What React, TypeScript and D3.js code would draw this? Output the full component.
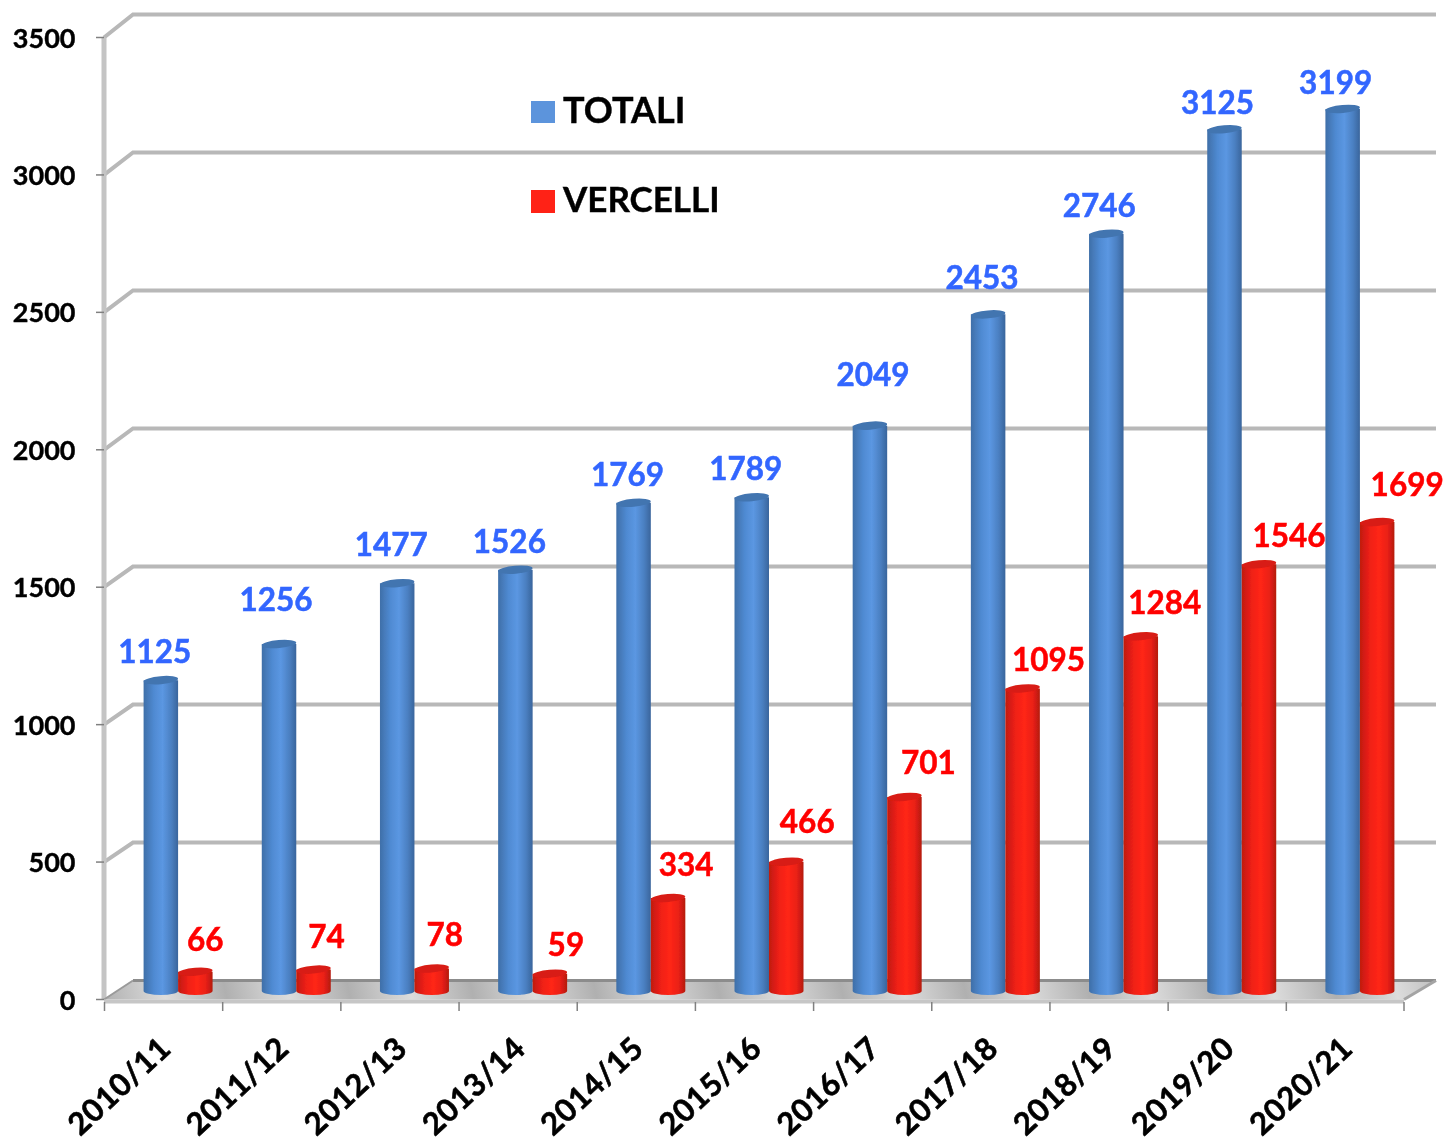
import React from "react";
import * as d3 from "d3";

const seasons = ["2010/11","2011/12","2012/13","2013/14","2014/15","2015/16","2016/17","2017/18","2018/19","2019/20","2020/21"];
const totali = [1125,1256,1477,1526,1769,1789,2049,2453,2746,3125,3199];
const vercelli = [66,74,78,59,334,466,701,1095,1284,1546,1699];
const yTicks = [0,500,1000,1500,2000,2500,3000,3500];

// hand-placed label offsets of the original
const totaliLabelDx = [-6,-3,-6,-6,-6,-6,3,-6,-7,-7,-7];
const totaliLabelDy = [29,45,39,29,29,29,52,37,29,27,27];
const vercelliLabelDx = [10,13,13,16,18,21,24,26,24,30,30];
const vercelliLabelDy = [33,34,35,30,34,41,35,29,34,29,38];

const FONT = "Lato, Carlito, 'Open Sans', sans-serif";
const W = 1447, H = 1138;
const x = d3.scaleBand<string>().domain(seasons).range([104.5, 1404.5]);
const yFront = d3.scaleLinear().domain([0, 3500]).range([999.5, 37.5]);
const yBack = d3.scaleLinear().domain([0, 3500]).range([980.5, 14.5]);
const yBar = d3.scaleLinear().domain([0, 3500]).range([990, 26]);
const DX = 29;
const BAR = 34.5;

function Cyl({ cx, v, side, top }: { cx: number; v: number; side: string; top: string }) {
  const yt = yBar(v), yb = yBar(0) + 1;
  const l = cx - BAR / 2, r = cx + BAR / 2;
  const ry = 4;
  return (
    <g>
      <path d={`M${l},${yt} L${l},${yb} A${BAR / 2},${ry} 0 0 0 ${r},${yb} L${r},${yt} Z`} fill={`url(#${side})`} />
      <ellipse cx={cx} cy={yt} rx={BAR / 2} ry={ry} fill={top} transform={`rotate(-5 ${cx} ${yt})`} />
    </g>
  );
}

export default function App() {
  return (
    <svg width={W} height={H} style={{ position: "absolute", left: 0, top: 0, background: "#fff" }} fontFamily={FONT} fontWeight={700}>
      <defs>
        <linearGradient id="blueSide" x1="0" x2="1" y1="0" y2="0">
          <stop offset="0" stopColor="#3f6fa8" />
          <stop offset="0.3" stopColor="#4f8ad2" />
          <stop offset="0.55" stopColor="#5b97e2" />
          <stop offset="0.8" stopColor="#4b80c2" />
          <stop offset="1" stopColor="#39659c" />
        </linearGradient>
        <linearGradient id="redSide" x1="0" x2="1" y1="0" y2="0">
          <stop offset="0" stopColor="#c01c10" />
          <stop offset="0.3" stopColor="#f02016" />
          <stop offset="0.55" stopColor="#ff2618" />
          <stop offset="0.8" stopColor="#ea2014" />
          <stop offset="1" stopColor="#b41a10" />
        </linearGradient>
        <linearGradient id="floorG" gradientUnits="userSpaceOnUse" x1="104" y1="1000" x2="222" y2="975" spreadMethod="repeat">
          <stop offset="0" stopColor="#b0b0b0" />
          <stop offset="0.5" stopColor="#dcdcdc" />
          <stop offset="1" stopColor="#b0b0b0" />
        </linearGradient>
        <filter id="soft" x="-2%" y="-2%" width="104%" height="104%">
          <feGaussianBlur stdDeviation="0.7" />
        </filter>
      </defs>
      <g filter="url(#soft)">
        {/* back wall gridlines */}
        {yTicks.slice(1).map((t) => (
          <path key={t} d={`M${104},${yFront(t)} L${104 + DX},${yBack(t)} L${1436},${yBack(t)}`} fill="none" stroke="#b8b8b8" strokeWidth={4} />
        ))}
        {/* left wall */}
        <line x1={104} x2={104} y1={yFront(3500)} y2={yFront(0)} stroke="#c4c4c4" strokeWidth={5} />
        {/* floor */}
        <polygon points={`104,${yFront(0)} ${104 + DX},${yBack(0)} 1436,${yBack(0)} 1404,${yFront(0)}`} fill="url(#floorG)" />
        <path d={`M${104 + DX},${yBack(0)} L1436,${yBack(0)}`} stroke="#8c8c8c" strokeWidth={3} />
        <path d={`M104,${yFront(0)} L${104 + DX},${yBack(0)}`} stroke="#9a9a9a" strokeWidth={2} />
        <path d={`M1404,${yFront(0)} L1436,${yBack(0)}`} stroke="#a4a4a4" strokeWidth={3} />
        <rect x={104} y={yFront(0)} width={1300} height={4} fill="#c6c6c6" />
        {/* ticks */}
        {yTicks.map((t) => (
          <line key={t} x1={96} x2={104} y1={yFront(t)} y2={yFront(t)} stroke="#808080" strokeWidth={1.5} />
        ))}
        {seasons.map((s) => (
          <line key={s} x1={x(s)!} x2={x(s)!} y1={1002} y2={1011} stroke="#808080" strokeWidth={1.5} />
        ))}
        <line x1={1404} x2={1404} y1={1002} y2={1011} stroke="#808080" strokeWidth={1.5} />
        {/* bars */}
        {seasons.map((s, i) => {
          const c = x(s)! + x.bandwidth() / 2 + 14.5;
          return (
            <g key={s}>
              <Cyl cx={c - BAR / 2} v={totali[i]} side="blueSide" top="#4274b0" />
              <Cyl cx={c + BAR / 2} v={vercelli[i]} side="redSide" top="#d81e12" />
            </g>
          );
        })}
        {/* value labels */}
        {seasons.map((s, i) => {
          const c = x(s)! + x.bandwidth() / 2 + 14.5;
          return (
            <g key={s} fontSize={31.5} textAnchor="middle" dominantBaseline="central" strokeWidth={0.5}>
              <text x={c - BAR / 2 + totaliLabelDx[i]} y={yBar(totali[i]) - totaliLabelDy[i]} fill="#3366ff" stroke="#3366ff">{totali[i]}</text>
              <text x={c + BAR / 2 + vercelliLabelDx[i]} y={yBar(vercelli[i]) - vercelliLabelDy[i]} fill="#ff0000" stroke="#ff0000">{vercelli[i]}</text>
            </g>
          );
        })}
        {/* y labels */}
        {yTicks.map((t) => (
          <text key={t} x={75.5} y={yFront(t) - 0.5} fontSize={27} textAnchor="end" dominantBaseline="central" fill="#000" stroke="#000" strokeWidth={0.4}>{t}</text>
        ))}
        {/* x labels */}
        {seasons.map((s) => {
          const ex = x(s)! + x.bandwidth() / 2 + 1;
          return (
            <text key={s} transform={`translate(${ex},1042) rotate(-43)`} fontSize={31} letterSpacing={0.6} textAnchor="end" dominantBaseline="central" fill="#000" stroke="#000" strokeWidth={0.6}>{s}</text>
          );
        })}
        {/* legend */}
        <rect x={531} y={101} width={24} height={22} fill="#5b94dc" />
        <text x={563} y={109} fontSize={36} dominantBaseline="central" fill="#000" stroke="#000" strokeWidth={0.4}>TOTALI</text>
        <rect x={531} y={190} width={24} height={23} fill="#ff2417" />
        <text x={563} y={198} fontSize={35} dominantBaseline="central" fill="#000" stroke="#000" strokeWidth={0.4}>VERCELLI</text>
      </g>
    </svg>
  );
}
